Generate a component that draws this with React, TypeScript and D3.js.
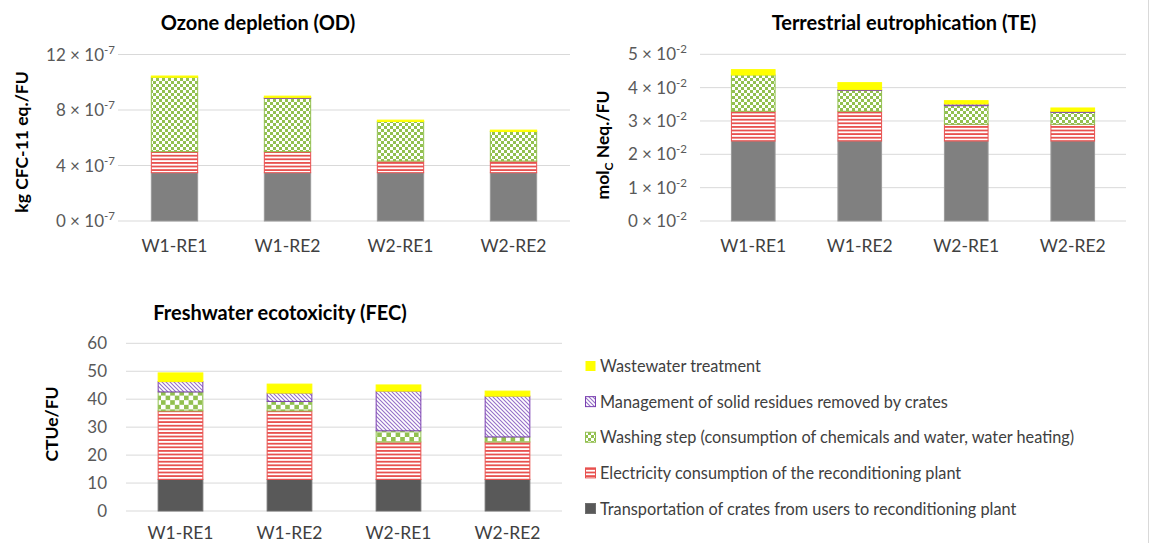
import React, { useRef, useEffect } from "react";
import * as d3 from "d3";

const categories = ["W1-RE1", "W1-RE2", "W2-RE1", "W2-RE2"];

// bottom -> top stacking order
const seriesKeys = ["transport", "electricity", "washing", "residues", "wastewater"];

// legend, top -> bottom as in the figure
const legendKeys = ["wastewater", "residues", "washing", "electricity", "transport"];
const legendLabels = [
  "Wastewater treatment",
  "Management of solid residues removed by crates",
  "Washing step (consumption of chemicals and water, water heating)",
  "Electricity consumption of the reconditioning plant",
  "Transportation of crates from users to reconditioning plant",
];

// Ozone depletion, x 10^-7 kg CFC-11 eq./FU
const odTransport = [3.48, 3.48, 3.48, 3.48];
const odElectricity = [1.52, 1.52, 0.84, 0.84];
const odWashing = [5.36, 3.84, 2.85, 2.13];
const odResidues = [0.0, 0.05, 0.0, 0.0];
const odWastewater = [0.09, 0.11, 0.1, 0.1];
const odTicks = [0, 4, 8, 12];

// Terrestrial eutrophication, x 10^-2 molc Neq./FU
const teTransport = [2.4, 2.4, 2.4, 2.4];
const teElectricity = [0.89, 0.89, 0.5, 0.5];
const teWashing = [1.09, 0.63, 0.56, 0.36];
const teResidues = [0.0, 0.02, 0.05, 0.03];
const teWastewater = [0.16, 0.21, 0.1, 0.1];
const teTicks = [0, 1, 2, 3, 4, 5];

// Freshwater ecotoxicity, CTUe/FU
const fecTransport = [11.3, 11.3, 11.3, 11.3];
const fecElectricity = [24.5, 24.5, 13.4, 13.4];
const fecWashing = [6.8, 3.4, 4.0, 1.8];
const fecResidues = [3.7, 3.0, 14.2, 14.6];
const fecWastewater = [3.1, 3.2, 2.2, 1.8];
const fecTicks = [0, 10, 20, 30, 40, 50, 60];

type Row = { cat: string; [k: string]: any };

const makeRows = (cols: number[][]): Row[] =>
  categories.map((c, i) => {
    const r: Row = { cat: c };
    seriesKeys.forEach((k, j) => (r[k] = cols[j][i]));
    return r;
  });

const FONT = "Lato, 'Open Sans', sans-serif";

const App: React.FC = () => {
  const svgRef = useRef<SVGSVGElement>(null);

  useEffect(() => {
    const svg = d3.select(svgRef.current);
    svg.selectAll("*").remove();

    const defs = svg.append("defs");

    // red narrow horizontal stripes
    const pRed = defs.append("pattern").attr("id", "pRed").attr("patternUnits", "userSpaceOnUse")
      .attr("width", 4).attr("height", 3.6);
    pRed.append("rect").attr("width", 4).attr("height", 3.6).attr("fill", "#fff");
    pRed.append("rect").attr("width", 4).attr("height", 1.8).attr("fill", "#e8514f");

    // green checkerboard
    const cs = [3, 4.6];
    cs.forEach((c, i) => {
      const p = defs.append("pattern").attr("id", `pGreen${i}`).attr("patternUnits", "userSpaceOnUse")
        .attr("width", 2 * c).attr("height", 2 * c);
      p.append("rect").attr("width", 2 * c).attr("height", 2 * c).attr("fill", "#fff");
      p.append("rect").attr("width", c).attr("height", c).attr("fill", "#92c050");
      p.append("rect").attr("x", c).attr("y", c).attr("width", c).attr("height", c).attr("fill", "#92c050");
    });

    // purple diagonal (down-right)
    const pPur = defs.append("pattern").attr("id", "pPurple").attr("patternUnits", "userSpaceOnUse")
      .attr("width", 4).attr("height", 4);
    pPur.append("rect").attr("width", 4).attr("height", 4).attr("fill", "#fff");
    pPur.append("path").attr("d", "M-1,-1 L5,5 M-1,3 L1,5 M3,-1 L5,1")
      .attr("stroke", "#9670c8").attr("stroke-width", 1.1);

    const fills = (dark: boolean, greenIdx: number): Record<string, string> => ({
      transport: dark ? "#595959" : "#808080",
      electricity: "url(#pRed)",
      washing: `url(#pGreen${greenIdx})`,
      residues: "url(#pPurple)",
      wastewater: "#ffff00",
    });
    const strokes = (dark: boolean): Record<string, string> => ({
      transport: dark ? "#6e6e6e" : "#9a9a9a",
      electricity: "#e8514f",
      washing: "#92c050",
      residues: "#7a3fb0",
      wastewater: "#ffff00",
    });

    const drawChart = (opts: {
      rows: Row[];
      ticks: number[];
      exp: string | null;
      x0: number; x1: number; yBottom: number; yTop: number;
      title: string; titleX: number; titleY: number;
      yLabel: (t: d3.Selection<SVGTextElement, unknown, null, undefined>) => void;
      yLabelX: number; yLabelY: number;
      tickRight: number; catY: number;
      dark: boolean; greenIdx: number;
    }) => {
      const g = svg.append("g");
      const x = d3.scaleBand().domain(categories).range([opts.x0, opts.x1]).paddingInner(0.59).paddingOuter(0.295);
      const y = d3.scaleLinear().domain([0, d3.max(opts.ticks)!]).range([opts.yBottom, opts.yTop]);

      g.selectAll(".grid").data(opts.ticks).enter().append("line")
        .attr("x1", opts.x0).attr("x2", opts.x1)
        .attr("y1", (d) => y(d)).attr("y2", (d) => y(d))
        .attr("stroke", "#d9d9d9").attr("stroke-width", 1);

      opts.ticks.forEach((v) => {
        const t = g.append("text").attr("x", opts.tickRight).attr("y", y(v) + 6)
          .attr("text-anchor", "end").attr("font-family", FONT).attr("font-size", 17).attr("fill", "#595959");
        if (opts.exp) {
          t.append("tspan").text(`${v} \u00d7 10`);
          t.append("tspan").attr("dy", -7).attr("font-size", 11.5).text(opts.exp);
        } else {
          t.text(String(v));
        }
      });

      const stack = d3.stack<Row>().keys(seriesKeys);
      const layers = stack(opts.rows);
      const f = fills(opts.dark, opts.greenIdx);
      const s = strokes(opts.dark);
      layers.forEach((layer) => {
        g.selectAll(`.bar-${layer.key}`).data(layer.filter((d) => d[1] - d[0] > 0)).enter().append("rect")
          .attr("x", (d) => x(d.data.cat)!)
          .attr("width", x.bandwidth())
          .attr("y", (d) => y(d[1]))
          .attr("height", (d) => Math.max(0.8, y(d[0]) - y(d[1])))
          .attr("fill", f[layer.key])
          .attr("stroke", s[layer.key])
          .attr("stroke-width", 1);
      });

      g.selectAll(".cat").data(categories).enter().append("text")
        .attr("x", (d) => x(d)! + x.bandwidth() / 2).attr("y", opts.catY)
        .attr("text-anchor", "middle").attr("font-family", FONT).attr("font-size", 17.5)
        .attr("fill", "#404040").text((d) => d);

      g.append("text").attr("x", opts.titleX).attr("y", opts.titleY).attr("text-anchor", "middle")
        .attr("font-family", FONT).attr("font-size", 20).attr("font-weight", "bold").attr("fill", "#000")
        .text(opts.title);

      const yl = g.append("text")
        .attr("transform", `translate(${opts.yLabelX},${opts.yLabelY}) rotate(-90)`)
        .attr("text-anchor", "middle").attr("font-family", FONT).attr("font-size", 17.5)
        .attr("font-weight", "bold").attr("fill", "#000");
      opts.yLabel(yl);
    };

    drawChart({
      rows: makeRows([odTransport, odElectricity, odWashing, odResidues, odWastewater]),
      ticks: odTicks, exp: "-7",
      x0: 118, x1: 570, yBottom: 221, yTop: 54.5,
      title: "Ozone depletion (OD)", titleX: 258, titleY: 30,
      yLabel: (t) => t.text("kg CFC-11 eq./FU"), yLabelX: 28, yLabelY: 142,
      tickRight: 115, catY: 252, dark: false, greenIdx: 0,
    });

    drawChart({
      rows: makeRows([teTransport, teElectricity, teWashing, teResidues, teWastewater]),
      ticks: teTicks, exp: "-2",
      x0: 700, x1: 1126, yBottom: 221, yTop: 54.3,
      title: "Terrestrial eutrophication (TE)", titleX: 904, titleY: 30,
      yLabel: (t) => {
        t.append("tspan").text("mol");
        t.append("tspan").attr("dy", 4).attr("font-size", 12).text("C");
        t.append("tspan").attr("dy", -4).text(" Neq./FU");
      },
      yLabelX: 609, yLabelY: 145,
      tickRight: 687, catY: 252, dark: false, greenIdx: 0,
    });

    drawChart({
      rows: makeRows([fecTransport, fecElectricity, fecWashing, fecResidues, fecWastewater]),
      ticks: fecTicks, exp: null,
      x0: 126, x1: 562, yBottom: 511, yTop: 343.3,
      title: "Freshwater ecotoxicity (FEC)", titleX: 280, titleY: 320,
      yLabel: (t) => t.text("CTUe/FU"), yLabelX: 58, yLabelY: 424,
      tickRight: 107, catY: 539, dark: true, greenIdx: 1,
    });

    // legend
    const lf = fills(true, 0);
    const ls = strokes(true);
    const ly = d3.scalePoint().domain(legendKeys).range([366, 508.5]);
    const lg = svg.append("g");
    legendKeys.forEach((k, i) => {
      lg.append("rect").attr("x", 585.5).attr("y", ly(k)! - 5).attr("width", 10).attr("height", 10)
        .attr("fill", lf[k]).attr("stroke", k === "wastewater" ? "none" : ls[k]).attr("stroke-width", 1);
      lg.append("text").attr("x", 600).attr("y", ly(k)! + 6).attr("font-family", FONT)
        .attr("font-size", 16.3).attr("fill", "#404040").text(legendLabels[i]);
    });

    // thin frame edge on the right
    svg.append("line").attr("x1", 1148.5).attr("x2", 1148.5).attr("y1", 0).attr("y2", 543)
      .attr("stroke", "#d9d9d9");
  }, []);

  return (
    <svg
      ref={svgRef}
      width={1151}
      height={543}
      style={{ position: "absolute", left: 0, top: 0, background: "#fff" }}
    ></svg>
  );
};

export default App;
